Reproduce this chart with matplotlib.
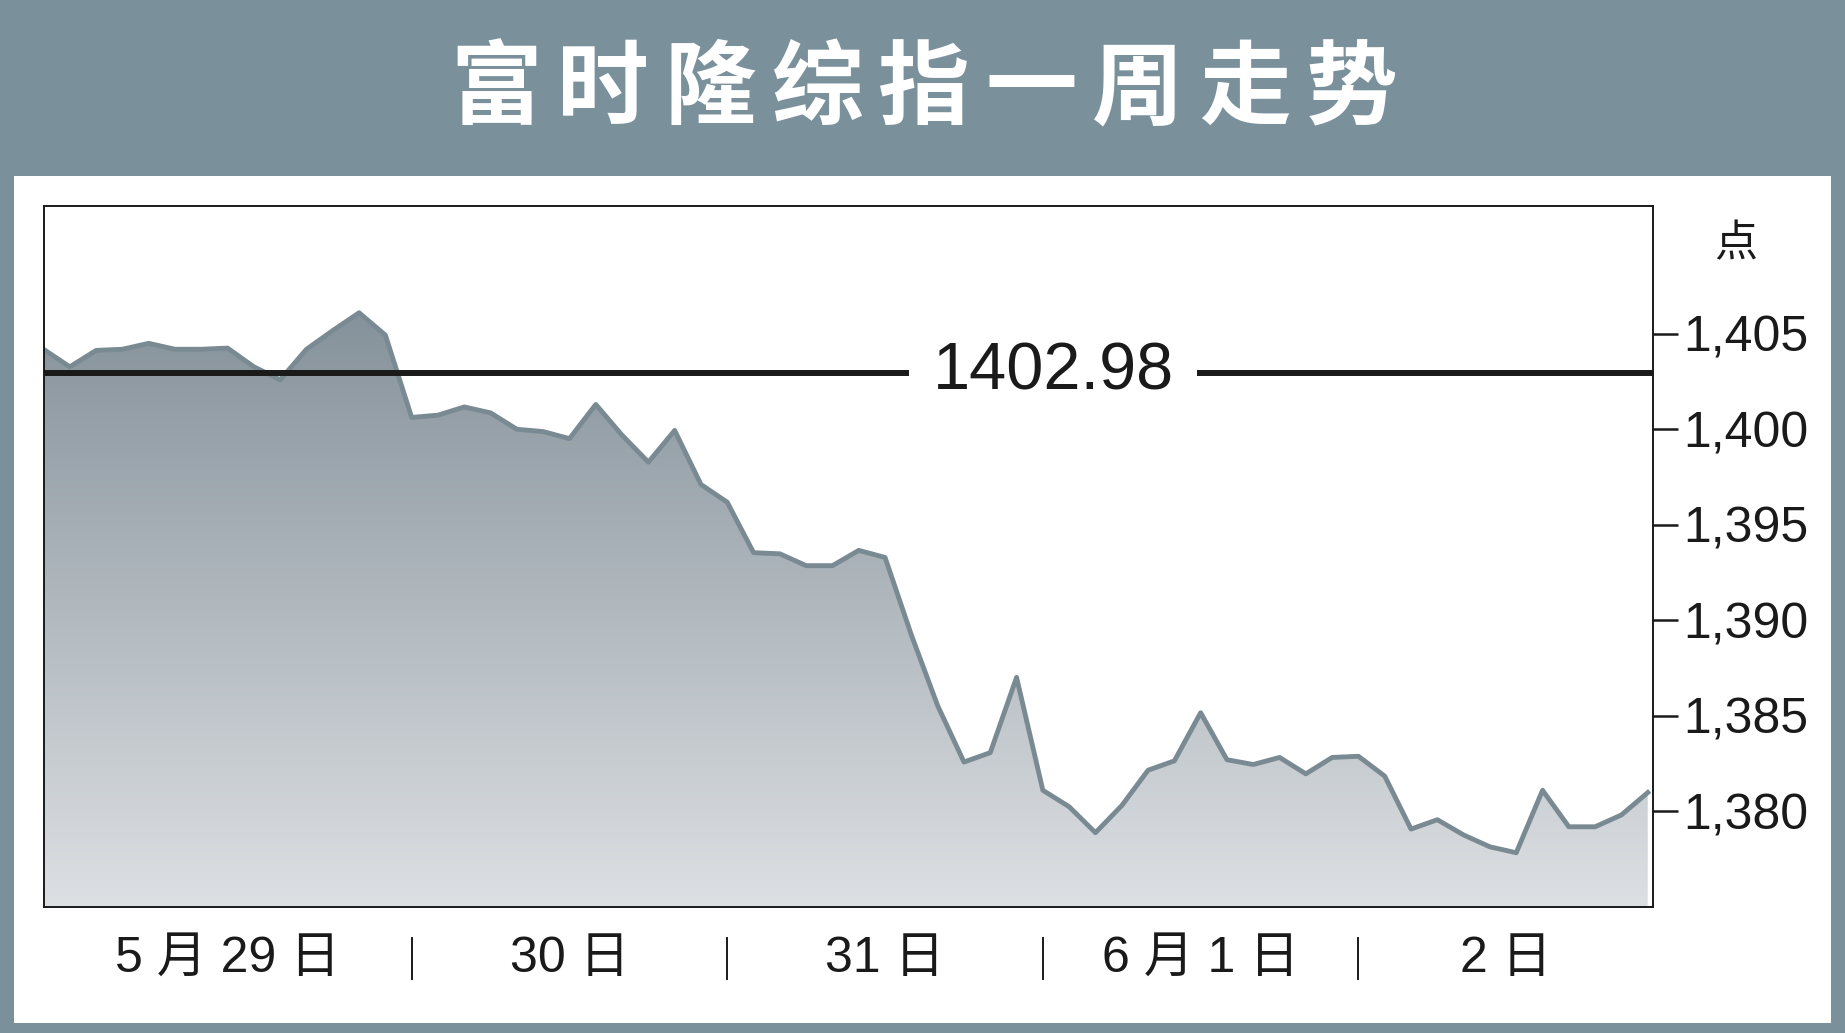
import matplotlib
matplotlib.use("Agg")
import matplotlib.pyplot as plt
import numpy as np
from matplotlib.patches import Rectangle
from matplotlib.colors import LinearSegmentedColormap

# index level through the week (roughly half-hourly readings)
index_values = [
    1404.20, 1403.28, 1404.14, 1404.20, 1404.51, 1404.20, 1404.20, 1404.26,
    1403.28, 1402.60, 1404.20, 1405.18, 1406.11, 1404.94, 1400.63, 1400.75,
    1401.18, 1400.87, 1400.01, 1399.89, 1399.52, 1401.31, 1399.70, 1398.29,
    1399.95, 1397.12, 1396.19, 1393.55, 1393.49, 1392.87, 1392.87, 1393.67,
    1393.30, 1389.24, 1385.54, 1382.59, 1383.08, 1387.02, 1381.11, 1380.25,
    1378.89, 1380.31, 1382.16, 1382.65, 1385.17, 1382.71, 1382.46, 1382.83,
    1381.97, 1382.83, 1382.89, 1381.85, 1379.08, 1379.57, 1378.77, 1378.15,
    1377.84, 1381.11, 1379.20, 1379.20, 1379.82, 1380.99,
]
ref_level = 1402.98
day_labels = ["5 月 29 日", "30 日", "31 日", "6 月 1 日", "2 日"]
day_edges = [0, 14, 26, 38, 50, 61.2]
y_ticks = [1380, 1385, 1390, 1395, 1400, 1405]
title = "富时隆综指一周走势"

W, H = 1845, 1033
frame_col = "#7a919c"
cjk = ["Noto Sans CJK SC", "DejaVu Sans"]
latin = ["Liberation Sans", "Noto Sans CJK SC"]

fig = plt.figure(figsize=(W / 100, H / 100), dpi=100)
fig.patch.set_facecolor(frame_col)

# white panel below the title band
fig.patches.append(Rectangle((14 / W, 1 - 1023 / H), (1831 - 14) / W, (1023 - 176) / H,
                             transform=fig.transFigure, facecolor="white", edgecolor="none",
                             zorder=-10))

# title, one character at a time to get the wide spacing
pitch = 107
cx0 = 924 - pitch * (len(title) - 1) / 2
for i, ch in enumerate(title):
    fig.text((cx0 + i * pitch) / W, 1 - 90 / H, ch, color="white", fontsize=66,
             fontweight="heavy", family=cjk, ha="center", va="center")

ax = fig.add_axes([43.5 / W, 1 - 907 / H, (1653 - 43.5) / W, (907 - 206) / H])
ax.set_zorder(1)
x = np.arange(len(index_values))
ymin, ymax = 1375.0, 1411.7
ax.set_xlim(0, 61.2)
ax.set_ylim(ymin, ymax)

# gradient fill clipped under the line
poly = ax.fill_between(x, index_values, ymin, facecolor="none", edgecolor="none")
cmap = LinearSegmentedColormap.from_list("g", ["#dde0e3", "#76848e"])
grad = np.linspace(0, 1, 256).reshape(-1, 1)
im = ax.imshow(grad, extent=[0, 61.2, ymin, ymax], origin="lower", aspect="auto",
               cmap=cmap, zorder=1)
im.set_clip_path(poly.get_paths()[0], transform=ax.transData)
ax.plot(x, index_values, color="#7a8a93", lw=3.5, zorder=2, solid_joinstyle="round")

ax.axhline(ref_level, color="#1a1a1a", lw=4.3, zorder=3)
ax.text(38.4, ref_level, f"{ref_level:.2f}", fontsize=48, family=latin, color="#1a1a1a",
        ha="center", va="center", zorder=4,
        bbox=dict(boxstyle="square,pad=0.35", facecolor="white", edgecolor="none"))

for s in ax.spines.values():
    s.set_linewidth(1.4)
    s.set_color("#1a1a1a")

ax.set_xticks([])
ax.yaxis.tick_right()
ax.set_yticks(y_ticks)
ax.set_yticklabels([f"{v:,}" for v in y_ticks], fontsize=36, family=latin, color="#1a1a1a")
ax.tick_params(axis="y", direction="out", length=18, width=1.8, pad=4, color="#1a1a1a")

fig.text(1736 / W, 1 - 244 / H, "点", fontsize=31, family=cjk, ha="center", va="center",
         color="#1a1a1a")

# day labels and separators under the plot
for i, lab in enumerate(day_labels):
    mid = (day_edges[i] + day_edges[i + 1]) / 2
    ax.text(mid, -0.074, lab, transform=ax.get_xaxis_transform(), fontsize=36,
            family=latin, ha="center", va="center", color="#1a1a1a")
for e in day_edges[1:-1]:
    ax.plot([e, e], [-0.044, -0.103], transform=ax.get_xaxis_transform(),
            color="#1a1a1a", lw=1.4, clip_on=False)

fig.savefig("out.png", dpi=100, facecolor=fig.get_facecolor())
